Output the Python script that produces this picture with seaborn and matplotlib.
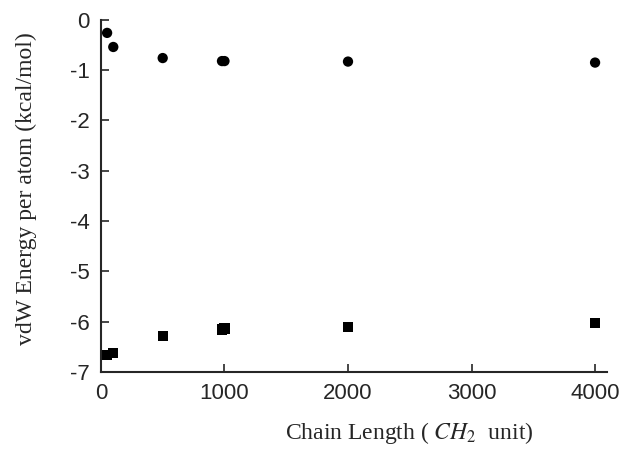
import pandas as pd
import matplotlib
matplotlib.use('Agg')
import matplotlib.pyplot as plt
import seaborn as sns

# chain lengths (CH2 units) and vdW energy per atom (kcal/mol)
chain_len = [50, 100, 500, 980, 1000, 2000, 4000]
e_circle = [-0.26, -0.54, -0.76, -0.82, -0.82, -0.83, -0.85]
e_square = [-6.66, -6.62, -6.28, -6.15, -6.13, -6.10, -6.02]

x_ticks = [0, 1000, 2000, 3000, 4000]
y_ticks = [0, -1, -2, -3, -4, -5, -6, -7]

sns.set_style('ticks')
plt.rcParams['font.family'] = ['Liberation Sans', 'DejaVu Sans']
plt.rcParams['mathtext.fontset'] = 'stix'
plt.rcParams['axes.unicode_minus'] = False

df = pd.concat([
    pd.DataFrame({'length': chain_len, 'energy': e_circle, 'set': 'circle'}),
    pd.DataFrame({'length': chain_len, 'energy': e_square, 'set': 'square'}),
], ignore_index=True)

fig = plt.figure(figsize=(6.23, 4.5), dpi=100)
ax = fig.add_axes([0.162, 0.173, 0.813, 0.783])

sns.scatterplot(data=df, x='length', y='energy', hue='set', style='set',
                palette={'circle': 'black', 'square': 'black'},
                markers={'circle': 'o', 'square': 's'},
                s=55, edgecolor='black', linewidth=0, legend=False, ax=ax)

ax.set_xlim(0, 4100)
ax.set_ylim(-7, 0)
ax.set_xticks(x_ticks)
ax.set_yticks(y_ticks)
ax.tick_params(direction='in', length=6, width=1.2, labelsize=16, pad=8)
for sp in ['top', 'right']:
    ax.spines[sp].set_visible(False)
for sp in ['left', 'bottom']:
    ax.spines[sp].set_linewidth(1.5)

ax.set_xlabel('')
ax.set_ylabel('')
fig.text(0.657, 0.038, r'Chain Length ( $\mathit{CH}_2$  unit)', ha='center', va='center',
         family='Liberation Serif', fontsize=17)
fig.text(0.043, 0.58, 'vdW Energy per atom (kcal/mol)', ha='center', va='center',
         rotation=90, family='Liberation Serif', fontsize=17)

fig.savefig('out.png', dpi=100)
